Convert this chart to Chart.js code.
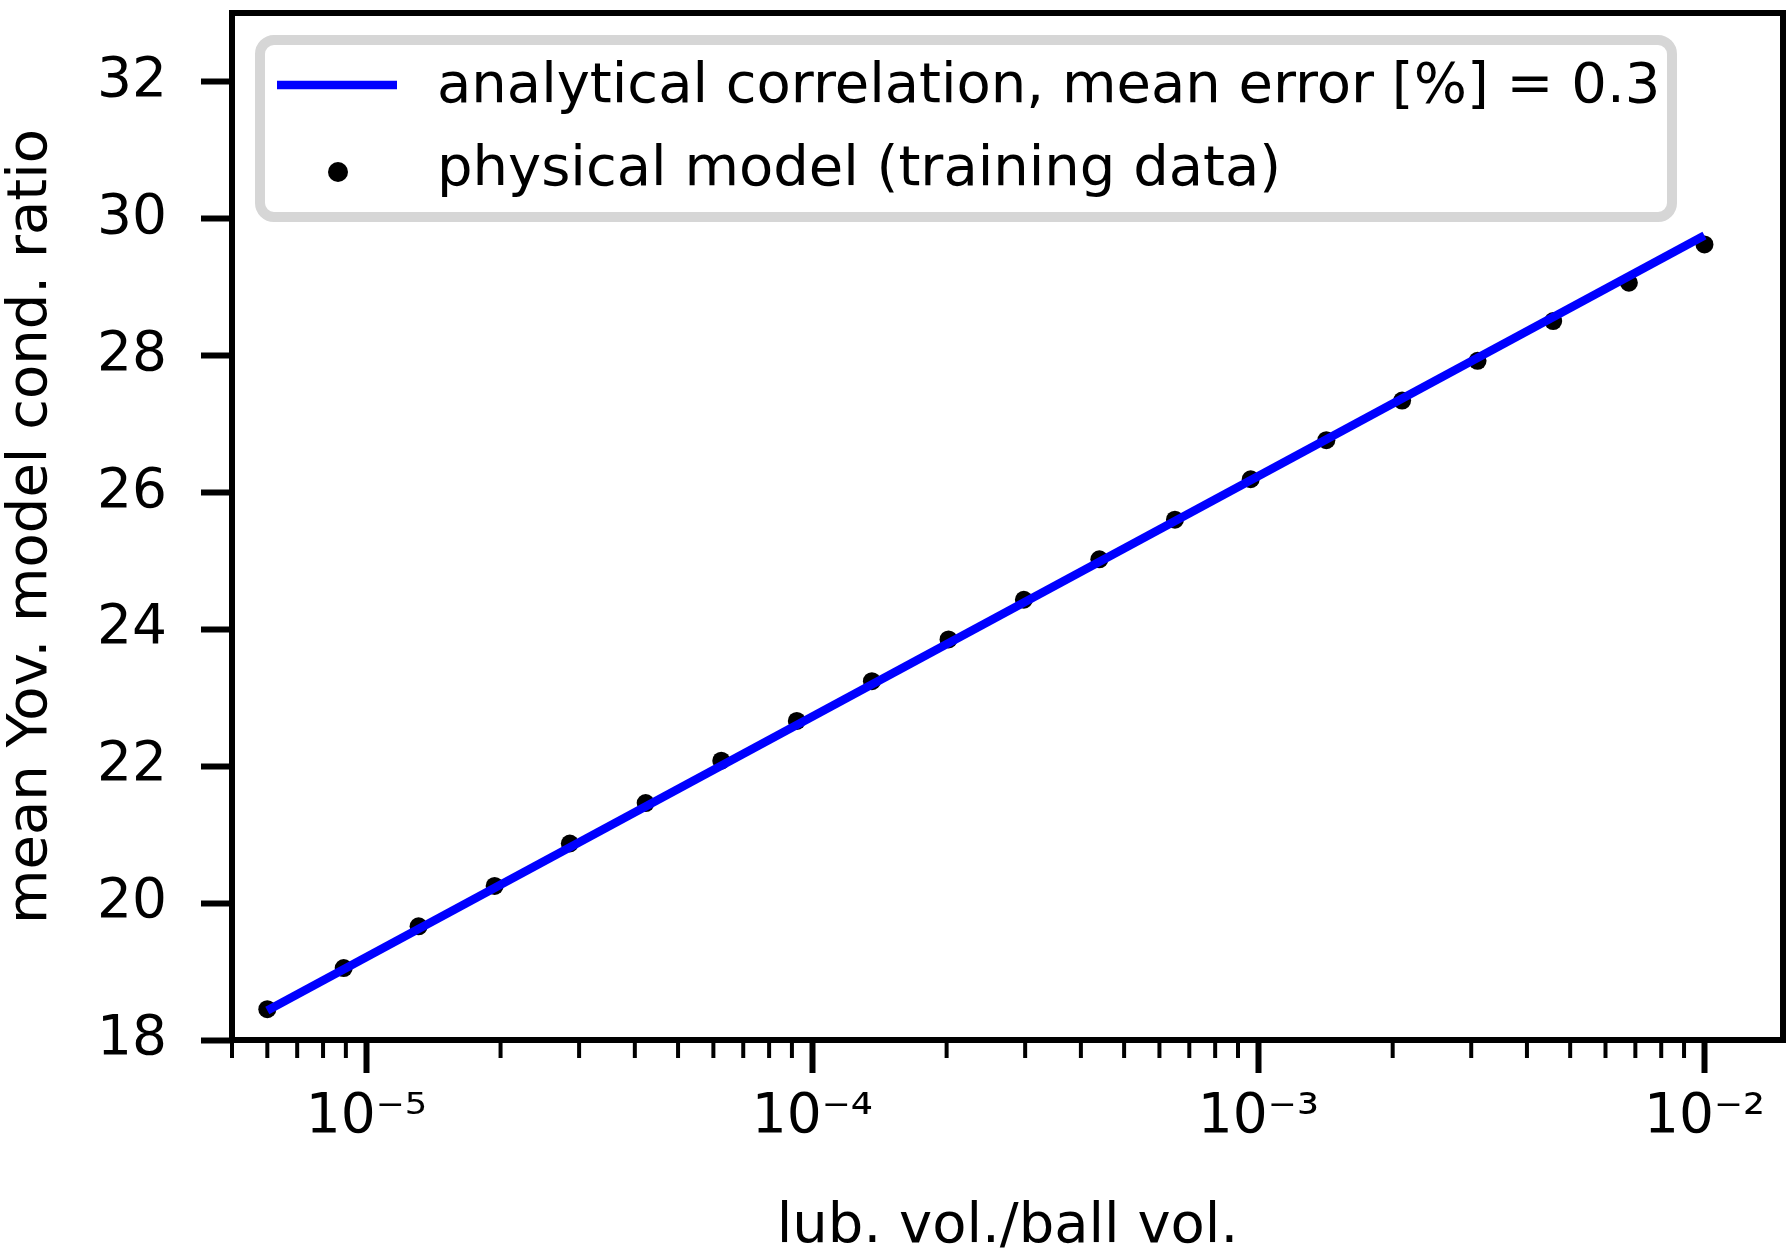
<!DOCTYPE html>
<html lang="en">
<head>
    <meta charset="UTF-8">
    <title>Yov. model cond. ratio vs lubricant volume</title>
    <style>
        body {
            margin: 0;
            background-color: #fff;
        }
        #chartBox {
            width: 1792px;
            height: 1255px;
        }
    </style>
</head>
<body>
    <div id="chartBox">
        <canvas id="ratioChart" width="1792" height="1255"></canvas>
    </div>

    <script src="https://cdn.jsdelivr.net/npm/chart.js"></script>
    <script>
        // lub. vol./ball vol. of the training points
        const lubVolume = [6.0e-6, 8.9e-6, 1.31e-5, 1.94e-5, 2.86e-5, 4.23e-5, 6.25e-5, 9.23e-5, 1.36e-4, 2.02e-4,
                           2.98e-4, 4.40e-4, 6.50e-4, 9.61e-4, 1.42e-3, 2.10e-3, 3.10e-3, 4.58e-3, 6.77e-3, 1.0e-2];
        // mean Yov. model cond. ratio from the physical model
        const physicalRatio = [18.45, 19.05, 19.66, 20.25, 20.87, 21.46, 22.08, 22.66, 23.24, 23.85,
                               24.43, 25.02, 25.60, 26.19, 26.76, 27.34, 27.92, 28.50, 29.06, 29.62];
        // analytical correlation (straight on the log axis)
        const fitVolume = [6.0e-6, 1.0e-2];
        const fitRatio = [18.43, 29.75];

        const xMajorTicks = [1e-5, 1e-4, 1e-3, 1e-2];
        const xTickLabels = ['10\u207B\u2075', '10\u207B\u2074', '10\u207B\u00B3', '10\u207B\u00B2'];
        const xMinorTicks = [5e-6, 6e-6, 7e-6, 8e-6, 9e-6,
                             2e-5, 3e-5, 4e-5, 5e-5, 6e-5, 7e-5, 8e-5, 9e-5,
                             2e-4, 3e-4, 4e-4, 5e-4, 6e-4, 7e-4, 8e-4, 9e-4,
                             2e-3, 3e-3, 4e-3, 5e-3, 6e-3, 7e-3, 8e-3, 9e-3];
        const yTicks = [18, 20, 22, 24, 26, 28, 30, 32];

        const FONT = 'DejaVu Sans';

        // minor ticks, axes frame and the boxed legend like matplotlib
        const frameAndLegend = {
            id: 'frameAndLegend',
            afterDraw(chart) {
                const ctx = chart.ctx;
                const ca = chart.chartArea;
                const xs = chart.scales.x;
                ctx.save();

                ctx.strokeStyle = '#000';
                ctx.lineWidth = 4;
                xMinorTicks.forEach(v => {
                    const px = xs.getPixelForValue(v);
                    ctx.beginPath();
                    ctx.moveTo(px, ca.bottom);
                    ctx.lineTo(px, ca.bottom + 18);
                    ctx.stroke();
                });

                ctx.lineWidth = 6;
                ctx.strokeRect(ca.left, ca.top, ca.right - ca.left, ca.bottom - ca.top);

                // legend
                const lx = ca.left + 28, ly = ca.top + 27;
                ctx.fillStyle = 'rgba(255,255,255,0.8)';
                ctx.strokeStyle = '#d6d6d6';
                ctx.lineWidth = 10;
                ctx.beginPath();
                ctx.roundRect(lx, ly, 1412, 177, 14);
                ctx.fill();
                ctx.stroke();

                const ds = chart.data.datasets;
                ctx.strokeStyle = ds[0].borderColor;
                ctx.lineWidth = ds[0].borderWidth;
                ctx.beginPath();
                ctx.moveTo(ca.left + 45, ca.top + 72);
                ctx.lineTo(ca.left + 165, ca.top + 72);
                ctx.stroke();

                ctx.fillStyle = ds[1].backgroundColor;
                ctx.beginPath();
                ctx.arc(ca.left + 106, ca.top + 159, 10, 0, Math.PI * 2);
                ctx.fill();

                ctx.fillStyle = '#000';
                ctx.font = '56px "' + FONT + '"';
                ctx.textAlign = 'left';
                ctx.textBaseline = 'alphabetic';
                ctx.fillText(ds[0].label, ca.left + 205, ca.top + 89);
                ctx.fillText(ds[1].label, ca.left + 205, ca.top + 172);

                ctx.restore();
            }
        };

        const ctx = document.getElementById('ratioChart').getContext('2d');
        const ratioChart = new Chart(ctx, {
            type: 'scatter',
            data: {
                datasets: [{
                    label: 'analytical correlation, mean error [%] = 0.3',
                    data: fitVolume.map((v, i) => ({ x: v, y: fitRatio[i] })),
                    showLine: true,
                    borderColor: '#0000ff',
                    backgroundColor: '#0000ff',
                    borderWidth: 8.5,
                    borderCapStyle: 'butt',
                    pointRadius: 0,
                    pointHoverRadius: 0
                }, {
                    label: 'physical model (training data)',
                    data: lubVolume.map((v, i) => ({ x: v, y: physicalRatio[i] })),
                    backgroundColor: '#000',
                    borderWidth: 0,
                    pointRadius: 9,
                    pointHoverRadius: 9
                }]
            },
            options: {
                responsive: false,
                animation: false,
                layout: {
                    padding: { top: 13, right: 9, left: 0, bottom: 0 }
                },
                plugins: {
                    legend: { display: false },
                    tooltip: { enabled: false }
                },
                scales: {
                    x: {
                        type: 'logarithmic',
                        min: 5e-6,
                        max: 1.5e-2,
                        border: { display: false },
                        grid: {
                            drawOnChartArea: false,
                            drawTicks: true,
                            tickLength: 33,
                            tickWidth: 6,
                            tickColor: '#000'
                        },
                        ticks: {
                            color: '#000',
                            padding: 12,
                            maxRotation: 0,
                            autoSkip: false,
                            font: { family: FONT, size: 55 },
                            callback: function(value) {
                                const i = xMajorTicks.indexOf(value);
                                return i >= 0 ? xTickLabels[i] : '';
                            }
                        },
                        afterBuildTicks: function(scale) {
                            scale.ticks = xMajorTicks.map(v => ({ value: v }));
                        },
                        afterFit: function(scale) {
                            scale.height = 215;
                            scale.paddingLeft = 0;
                            scale.paddingRight = 0;
                        },
                        title: {
                            display: true,
                            text: 'lub. vol./ball vol.',
                            color: '#000',
                            font: { family: FONT, size: 56, lineHeight: 1 },
                            padding: { top: 0, bottom: 0 }
                        }
                    },
                    y: {
                        min: 18,
                        max: 33,
                        border: { display: false },
                        grid: {
                            drawOnChartArea: false,
                            drawTicks: true,
                            tickLength: 31,
                            tickWidth: 6,
                            tickColor: '#000'
                        },
                        ticks: {
                            color: '#000',
                            padding: 34,
                            font: { family: FONT, size: 55 }
                        },
                        afterBuildTicks: function(scale) {
                            scale.ticks = yTicks.map(v => ({ value: v }));
                        },
                        afterFit: function(scale) {
                            scale.width = 232;
                            scale.paddingTop = 0;
                            scale.paddingBottom = 0;
                        },
                        title: {
                            display: true,
                            text: 'mean Yov. model cond. ratio',
                            color: '#000',
                            font: { family: FONT, size: 56, lineHeight: 1 },
                            padding: { top: 3, bottom: 0 }
                        }
                    }
                }
            },
            plugins: [frameAndLegend]
        });
    </script>
</body>
</html>
